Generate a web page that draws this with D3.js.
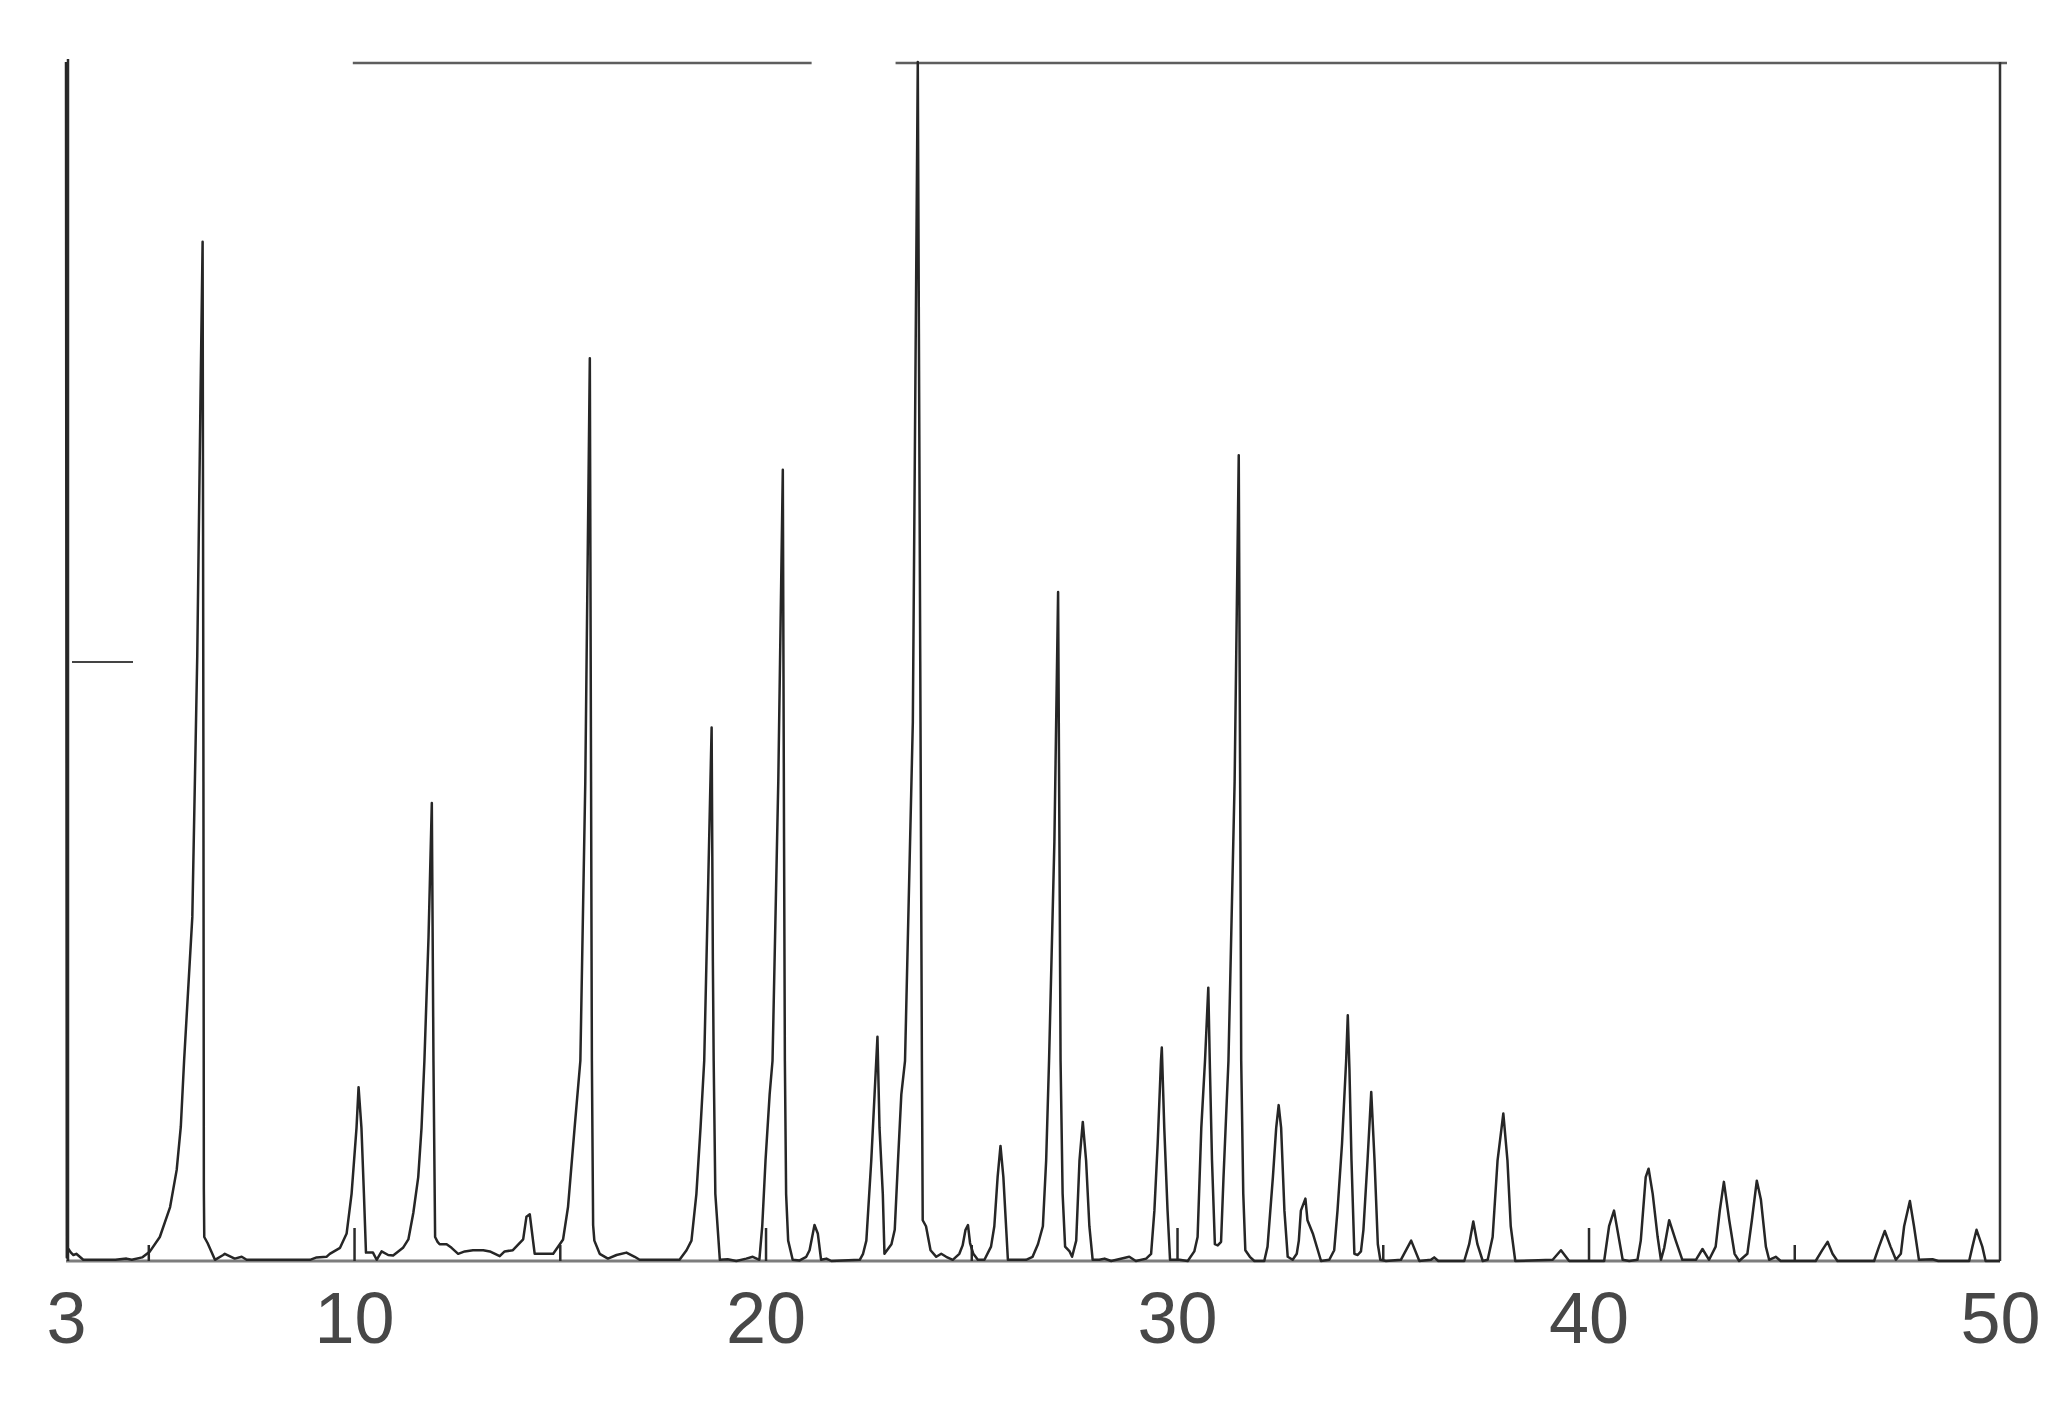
<!DOCTYPE html>
<html>
<head>
<meta charset="utf-8">
<script src="https://cdn.jsdelivr.net/npm/d3@7"></script>
<style>
  body { margin: 0; background: #fff; }
</style>
</head>
<body>
<script>
/* XRD pattern, 2theta 3-50 */

var twoTheta = [
  3.00, 3.02, 3.06, 3.12, 3.18, 3.25, 3.42, 4.20, 4.47, 4.60, 4.85,
  5.04, 5.28, 5.53, 5.69, 5.79, 5.87, 6.07, 6.19, 6.27, 6.32, 6.34, 6.35, 6.36, 6.44, 6.62, 6.82, 6.86, 7.10, 7.27, 7.39,
  8.93, 9.09, 9.33, 9.41, 9.66, 9.82, 9.94, 10.06, 10.11, 10.18, 10.24, 10.29, 10.46, 10.55, 10.67, 10.83, 10.95,
  11.19, 11.32, 11.44, 11.56, 11.64, 11.71, 11.81, 11.89, 11.93, 11.97, 12.03, 12.08, 12.25, 12.37, 12.53, 12.69, 12.89,
  13.14, 13.30, 13.54, 13.66, 13.86, 14.11, 14.19, 14.27, 14.39, 14.84,
  15.08, 15.20, 15.36, 15.50, 15.62, 15.73, 15.76, 15.78, 15.81, 15.84, 15.97, 16.17, 16.38, 16.62, 16.82, 16.94,
  17.91, 18.08, 18.20, 18.32, 18.42, 18.51, 18.61, 18.69, 18.72, 18.74, 18.78, 18.89, 19.08, 19.29, 19.53, 19.69, 19.85,
  19.92, 20.00, 20.10, 20.17, 20.31, 20.42, 20.45, 20.47, 20.50, 20.55, 20.66, 20.83, 20.99, 21.07, 21.19, 21.27, 21.35, 21.48, 21.60,
  22.29, 22.37, 22.45, 22.57, 22.65, 22.72, 22.77, 22.85, 22.89, 23.06, 23.14, 23.22, 23.30, 23.39, 23.58, 23.70, 23.76, 23.80,
  23.82, 23.90, 24.01, 24.15, 24.27, 24.39, 24.55, 24.71, 24.79, 24.86, 24.92, 24.97, 25.05, 25.16, 25.32,
  25.48, 25.56, 25.64, 25.71, 25.78, 25.89, 26.33, 26.49, 26.62, 26.74, 26.82, 26.89, 27.02, 27.11, 27.15, 27.17,
  27.22, 27.28, 27.39, 27.45, 27.55, 27.63, 27.71, 27.79, 27.87, 27.95, 28.11, 28.24, 28.40, 28.84, 29.00,
  29.25, 29.37, 29.45, 29.53, 29.61, 29.63, 29.69, 29.77, 29.83, 30.06, 30.26, 30.42, 30.50, 30.59, 30.68, 30.76, 30.80,
  30.85, 30.92, 30.99, 31.07, 31.13, 31.25, 31.40, 31.50, 31.54, 31.56, 31.61, 31.66, 31.77, 31.88, 32.12,
  32.20, 32.33, 32.41, 32.47, 32.53, 32.61, 32.69, 32.81, 32.91, 32.96, 33.01, 33.12, 33.17, 33.30, 33.50, 33.70,
  33.82, 33.90, 34.01, 34.11, 34.15, 34.19, 34.24, 34.31, 34.39, 34.47, 34.53, 34.63, 34.72, 34.80, 34.88, 34.94,
  35.08, 35.44, 35.69, 35.89, 36.17, 36.25, 36.35, 36.98, 37.10, 37.20, 37.30, 37.43, 37.55, 37.67, 37.79, 37.93,
  38.03, 38.11, 38.22, 39.13, 39.33, 39.53, 40.38, 40.50, 40.62, 40.83, 40.99, 41.19, 41.27, 41.39, 41.46, 41.56,
  41.68, 41.76, 41.84, 41.96, 42.12, 42.28, 42.61, 42.77, 42.93, 43.09, 43.19, 43.29, 43.42, 43.55, 43.66,
  43.86, 43.97, 44.09, 44.19, 44.31, 44.39, 44.55, 44.67, 45.52, 45.68, 45.81, 45.93, 46.05,
  46.94, 47.06, 47.20, 47.34, 47.47, 47.59, 47.67, 47.81, 47.91, 48.03, 48.36, 48.50, 49.25, 49.33, 49.43, 49.57, 49.65, 50.00
];

var intensity = [
  100, 0.3, 1.0, 0.7, 0.5, 0.6, 0.1, 0.1, 0.2, 0.1, 0.3,
  0.8, 2.0, 4.5, 7.6, 11.2, 16.7, 28.7, 50.5, 72.4, 85, 40, 6, 2.0, 1.5, 0.1, 0.5, 0.6, 0.2, 0.35, 0.1,
  0.1, 0.3, 0.35, 0.6, 1.1, 2.3, 5.6, 11.1, 14.5, 11.1, 5.6, 0.7, 0.7, 0.1, 0.8, 0.5, 0.45,
  1.1, 1.8, 4.0, 7.0, 11.1, 16.7, 27, 38.2, 16.7, 2.0, 1.6, 1.4, 1.4, 1.1, 0.6, 0.8, 0.9,
  0.9, 0.8, 0.4, 0.8, 0.9, 1.8, 3.7, 3.9, 0.6, 0.6,
  1.8, 4.5, 11.1, 16.7, 40, 75.3, 40, 16.7, 3, 1.7, 0.6, 0.2, 0.5, 0.7, 0.35, 0.1,
  0.1, 0.9, 1.7, 5.6, 11.1, 16.7, 32, 44.5, 25, 16.7, 5.6, 0.1, 0.15, 0, 0.2, 0.35, 0.1,
  2.9, 8.4, 13.9, 16.7, 40, 66, 35, 16.7, 5.6, 1.7, 0.1, 0.05, 0.35, 0.9, 3.0, 2.3, 0.1, 0.2, 0,
  0.1, 0.6, 1.7, 8.4, 13.9, 18.7, 11.1, 5.6, 0.6, 1.4, 2.6, 8.4, 13.9, 16.7, 45, 100, 50, 16.7,
  3.4, 2.9, 0.9, 0.35, 0.6, 0.35, 0.1, 0.6, 1.3, 2.6, 3.0, 1.5, 0.6, 0.1, 0.1,
  1.2, 2.9, 7.0, 9.6, 7.0, 0.1, 0.1, 0.35, 1.4, 2.9, 8.4, 16.7, 35, 55.8, 30, 16.7,
  5.6, 1.2, 0.8, 0.35, 1.7, 8.4, 11.6, 8.4, 2.9, 0.1, 0.1, 0.2, 0, 0.35, 0,
  0.2, 0.6, 4.2, 9.8, 16.7, 17.8, 11.1, 4.2, 0.1, 0.1, 0, 0.8, 2.0, 11.1, 16.7, 22.8, 16,
  8.4, 1.4, 1.3, 1.6, 7.0, 16.7, 40, 67.2, 35, 16.7, 5.6, 0.9, 0.35, 0, 0,
  1.2, 7.0, 11.1, 13.0, 11.1, 4.2, 0.35, 0.1, 0.6, 1.7, 4.2, 5.2, 3.4, 2.3, 0, 0.1,
  0.9, 4.2, 9.8, 16.7, 20.5, 16, 8.4, 0.6, 0.5, 0.8, 2.6, 8.4, 14.1, 8.4, 1.4, 0.1,
  0, 0.1, 1.7, 0, 0.1, 0.3, 0, 0, 1.4, 3.3, 1.4, 0, 0.1, 2.0, 8.4, 12.3,
  8.4, 2.9, 0, 0.1, 0.9, 0, 0, 2.9, 4.2, 0.1, 0, 0.1, 1.7, 7.0, 7.7, 5.6,
  2.0, 0.1, 1.1, 3.4, 1.7, 0.1, 0.1, 1.0, 0.1, 1.2, 4.2, 6.6, 3.4, 0.6, 0,
  0.6, 3.4, 6.7, 5.1, 1.2, 0.1, 0.35, 0, 0, 0.9, 1.6, 0.6, 0,
  0, 1.2, 2.5, 1.2, 0.1, 0.6, 2.9, 5.0, 2.9, 0.1, 0.15, 0, 0, 1.2, 2.6, 1.2, 0, 0
];

var labelTicks = [3, 10, 20, 30, 40, 50];   /* numbers under the axis */
var majorTicks = [10, 20, 30, 40];          /* long inner ticks */
var minorTicks = [5, 15, 25, 35, 45];       /* short inner ticks */
var yTicks = [50];                          /* the single mark on the left */
var topRule = [[9.97, 21.12], [23.16, 50.17]]; /* pieces of the top frame line */

var W = 2051, H = 1401;

var svg = d3.select('body').append('svg')
  .attr('width', W)
  .attr('height', H);

var x = d3.scaleLinear().domain([3, 50]).range([66, 2000]);
var y = d3.scaleLinear().domain([0, 100]).range([1261, 62]);

/* baseline */
svg.append('line')
  .attr('x1', x(3)).attr('x2', x(50))
  .attr('y1', y(0)).attr('y2', y(0))
  .attr('stroke', '#7d7d7d')
  .attr('stroke-width', 3.2);

/* top frame pieces */
svg.selectAll('.top-rule')
  .data(topRule)
  .enter().append('line')
  .attr('class', 'top-rule')
  .attr('x1', function (d) { return x(d[0]); })
  .attr('x2', function (d) { return x(d[1]); })
  .attr('y1', y(100) + 1).attr('y2', y(100) + 1)
  .attr('stroke', '#5e5e5e')
  .attr('stroke-width', 2.4);

/* right frame */
svg.append('line')
  .attr('x1', x(50)).attr('x2', x(50))
  .attr('y1', y(100)).attr('y2', y(0))
  .attr('stroke', '#333')
  .attr('stroke-width', 2.5);

/* left axis line */
svg.append('line')
  .attr('x1', x(3) + 2).attr('x2', x(3) + 2)
  .attr('y1', y(100) - 3).attr('y2', y(0))
  .attr('stroke', '#2b2b2b')
  .attr('stroke-width', 2.5);

/* inner ticks along the bottom */
var majorAxis = d3.axisTop(x).tickValues(majorTicks).tickSize(33).tickFormat('');
var minorAxis = d3.axisTop(x).tickValues(minorTicks).tickSize(16).tickFormat('');

svg.append('g')
  .attr('transform', 'translate(0,' + y(0) + ')')
  .call(majorAxis)
  .call(function (g) { g.select('.domain').remove(); })
  .selectAll('line').attr('stroke', '#2b2b2b').attr('stroke-width', 2.5);

svg.append('g')
  .attr('transform', 'translate(0,' + y(0) + ')')
  .call(minorAxis)
  .call(function (g) { g.select('.domain').remove(); })
  .selectAll('line').attr('stroke', '#2b2b2b').attr('stroke-width', 2.5);

/* left mark at half height */
svg.append('g')
  .attr('transform', 'translate(' + (x(3) + 6) + ',0)')
  .call(d3.axisRight(y).tickValues(yTicks).tickSize(61).tickFormat(''))
  .call(function (g) { g.select('.domain').remove(); })
  .selectAll('line').attr('stroke', '#444').attr('stroke-width', 2);

/* tick labels */
var labelAxis = d3.axisBottom(x).tickValues(labelTicks).tickSize(0).tickPadding(31);
var lab = svg.append('g')
  .attr('transform', 'translate(0,' + y(0) + ')')
  .call(labelAxis);
lab.select('.domain').remove();
lab.selectAll('text')
  .attr('font-family', '"Liberation Sans", Arial, Helvetica, sans-serif')
  .attr('font-size', 72)
  .attr('fill', '#474747');

/* the diffraction trace */
var line = d3.line()
  .x(function (d, i) { return x(twoTheta[i]); })
  .y(function (d) { return y(d); });

svg.append('path')
  .datum(intensity)
  .attr('d', line)
  .attr('fill', 'none')
  .attr('stroke', '#262626')
  .attr('stroke-width', 2.5)
  .attr('stroke-linejoin', 'round');
</script>
</body>
</html>
